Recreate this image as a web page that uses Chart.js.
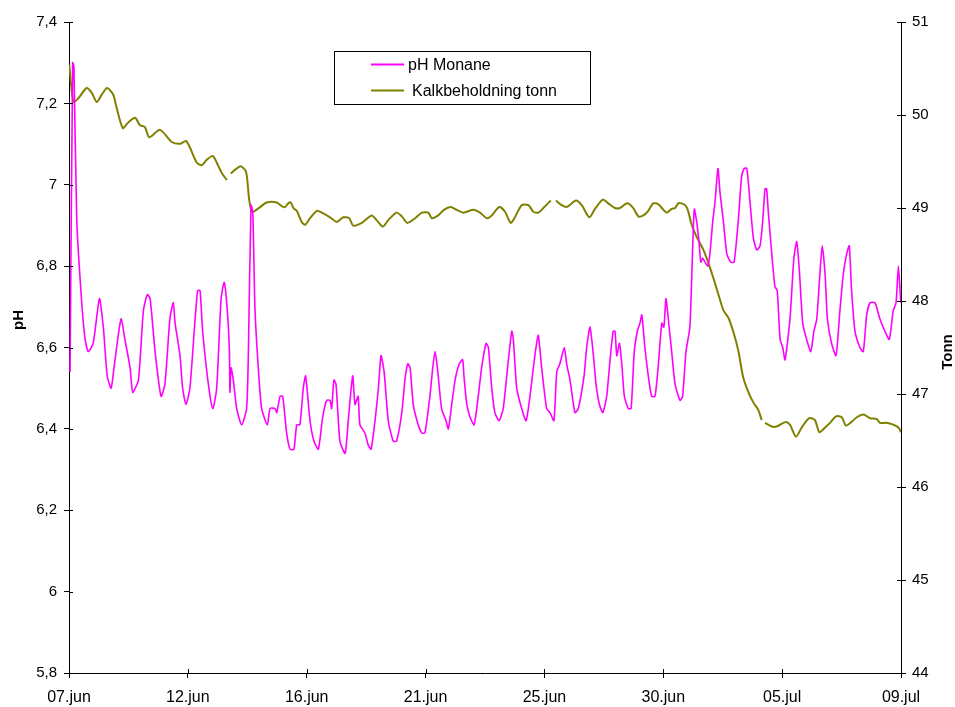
<!DOCTYPE html>
<html>
<head>
<meta charset="utf-8">
<script src="https://cdn.jsdelivr.net/npm/chart.js@4/dist/chart.umd.min.js"></script>
<style>
  html, body { margin: 0; padding: 0; background: #fff; }
  #wrap { width: 955px; height: 707px; }
</style>
</head>
<body>
<div id="wrap"><canvas id="c" width="955" height="707"></canvas></div>
<script>
// x = dager etter 07.jun (0 .. 32)
const xTickLabels = ['07.jun', '12.jun', '16.jun', '21.jun', '25.jun', '30.jun', '05.jul', '09.jul'];
const X_MAX = 32;

// pH Monane (venstre akse)
const phDay = [
  0.04, 0.14, 0.19, 0.30, 0.49, 0.62, 0.74, 0.93, 1.17, 1.32, 1.47, 1.62, 1.73, 2.00, 2.15, 2.35, 2.45, 2.67,
  2.86, 3.01, 3.12, 3.31, 3.54, 3.69, 3.88, 4.01, 4.08, 4.27, 4.37, 4.50, 4.65, 4.85, 4.95, 5.04, 5.14, 5.36,
  5.53, 5.68, 5.85, 5.97, 6.09, 6.17, 6.19, 6.23, 6.32, 6.45, 6.64, 6.83, 6.90, 7.00, 7.07, 7.15, 7.28, 7.41,
  7.63, 7.73, 7.92, 7.99, 8.12, 8.22, 8.37, 8.50, 8.65, 8.76, 8.88, 9.01, 9.10, 9.27, 9.42, 9.59, 9.76, 9.91,
  10.04, 10.10, 10.19, 10.27, 10.42, 10.62, 10.74, 10.91, 11.00, 11.12, 11.19, 11.38, 11.51, 11.62, 11.77, 11.90,
  12.00, 12.12, 12.28, 12.47, 12.60, 12.80, 12.92, 13.03, 13.12, 13.24, 13.43, 13.57, 13.69, 13.88, 13.99, 14.08,
  14.17, 14.33, 14.50, 14.59, 14.72, 14.85, 15.01, 15.14, 15.19, 15.30, 15.42, 15.58, 15.74, 15.87, 16.04, 16.13,
  16.26, 16.38, 16.54, 16.70, 16.90, 17.03, 17.09, 17.22, 17.41, 17.58, 17.73, 17.86, 17.96, 18.05, 18.18, 18.37,
  18.50, 18.65, 18.76, 18.88, 19.05, 19.14, 19.27, 19.46, 19.59, 19.81, 19.91, 20.04, 20.17, 20.27, 20.40, 20.53,
  20.68, 20.81, 20.93, 21.00, 21.07, 21.17, 21.26, 21.36, 21.51, 21.62, 21.74, 21.86, 21.96, 22.03, 22.15, 22.28,
  22.41, 22.54, 22.67, 22.80, 22.88, 22.96, 23.05, 23.18, 23.31, 23.50, 23.60, 23.73, 23.88, 23.99, 24.05, 24.14,
  24.23, 24.30, 24.37, 24.46, 24.57, 24.65, 24.76, 24.85, 24.96, 25.04, 25.17, 25.30, 25.45, 25.58, 25.74, 25.87,
  25.97, 26.07, 26.19, 26.32, 26.45, 26.58, 26.68, 26.77, 26.83, 26.90, 27.03, 27.15, 27.24, 27.35, 27.45, 27.54,
  27.73, 27.88, 27.99, 28.09, 28.22, 28.37, 28.53, 28.65, 28.76, 28.88, 28.97, 29.08, 29.17, 29.33, 29.50, 29.65,
  29.78, 29.91, 30.01, 30.10, 30.23, 30.42, 30.55, 30.68, 30.81, 31.00, 31.19, 31.38, 31.55, 31.70, 31.81, 31.90,
  31.99
];
const phValue = [
  6.54, 7.30, 7.29, 6.91, 6.71, 6.62, 6.59, 6.61, 6.72, 6.65, 6.53, 6.50, 6.55, 6.67, 6.62, 6.55, 6.49, 6.52,
  6.69, 6.73, 6.72, 6.59, 6.48, 6.51, 6.67, 6.71, 6.66, 6.58, 6.50, 6.46, 6.50, 6.67, 6.74, 6.74, 6.64, 6.51,
  6.45, 6.50, 6.72, 6.76, 6.69, 6.59, 6.49, 6.55, 6.52, 6.45, 6.41, 6.45, 6.59, 6.95, 6.93, 6.70, 6.55, 6.45,
  6.41, 6.45, 6.45, 6.44, 6.48, 6.48, 6.39, 6.35, 6.35, 6.41, 6.41, 6.50, 6.53, 6.42, 6.37, 6.35, 6.43, 6.47,
  6.47, 6.45, 6.52, 6.51, 6.37, 6.34, 6.42, 6.53, 6.46, 6.48, 6.41, 6.39, 6.36, 6.35, 6.42, 6.50,
  6.58, 6.54, 6.42, 6.37, 6.37, 6.44, 6.52, 6.56, 6.55, 6.46, 6.41, 6.39, 6.39, 6.48, 6.55, 6.59,
  6.55, 6.45, 6.42, 6.40, 6.46, 6.52, 6.56, 6.57, 6.53, 6.46, 6.43, 6.41, 6.48, 6.55, 6.61, 6.60,
  6.50, 6.44, 6.42, 6.45, 6.57, 6.64, 6.62, 6.50, 6.45, 6.42, 6.48, 6.55, 6.60, 6.63, 6.55, 6.45,
  6.44, 6.42, 6.54, 6.56, 6.60, 6.56, 6.52, 6.44, 6.45, 6.53, 6.60, 6.65, 6.58, 6.51, 6.46, 6.44,
  6.48, 6.57, 6.64, 6.64, 6.58, 6.61, 6.56, 6.48, 6.45, 6.45, 6.59, 6.64, 6.66, 6.68, 6.60, 6.53,
  6.48, 6.48, 6.56, 6.66, 6.65, 6.72, 6.67, 6.59, 6.51, 6.47, 6.48, 6.59, 6.65, 6.85, 6.94, 6.91,
  6.86, 6.81, 6.82, 6.81, 6.80, 6.83, 6.91, 6.96, 7.04, 6.98, 6.91, 6.83, 6.81, 6.81, 6.91, 7.02,
  7.04, 7.04, 6.96, 6.87, 6.84, 6.85, 6.91, 6.99, 6.99, 6.93, 6.83, 6.75, 6.74, 6.62, 6.60, 6.57,
  6.67, 6.82, 6.86, 6.79, 6.66, 6.62, 6.59, 6.64, 6.67, 6.78, 6.85, 6.78, 6.67, 6.61, 6.58, 6.69,
  6.78, 6.83, 6.85, 6.74, 6.64, 6.60, 6.59, 6.68, 6.71, 6.71, 6.67, 6.64, 6.62, 6.69, 6.71, 6.80,
  6.71
];

// Kalkbeholdning tonn (høyre akse), null = hull i serien
const kalkDay = [
  0.01, 0.17, 0.36, 0.68, 0.87, 1.07, 1.26, 1.47, 1.70, 1.83, 2.07, 2.28, 2.54, 2.73, 2.92, 3.09, 3.50, 3.95,
  4.27, 4.50, 4.65, 4.91, 5.10, 5.30, 5.53, 5.68, 5.87, 6.07, 6.15, 6.22, 6.38, 6.60, 6.81, 6.93, 7.03, 7.15,
  7.35, 7.60, 7.99, 8.18, 8.31, 8.43, 8.53, 8.63, 8.76, 8.95, 9.08, 9.27, 9.53, 9.72, 10.04, 10.30, 10.55, 10.78,
  10.93, 11.26, 11.64, 11.83, 12.07, 12.28, 12.60, 12.80, 13.01, 13.31, 13.57, 13.82, 13.95, 14.20, 14.42, 14.68,
  14.91, 15.17, 15.55, 15.81, 16.07, 16.26, 16.55, 16.77, 16.99, 17.15, 17.41, 17.67, 17.86, 18.05, 18.28, 18.53,
  18.63, 18.73, 18.95, 19.14, 19.50, 19.72, 20.01, 20.23, 20.53, 20.74, 21.00, 21.19, 21.38, 21.51, 21.70, 21.90,
  22.09, 22.28, 22.47, 22.67, 22.83, 22.99, 23.18, 23.31, 23.43, 23.56, 23.73, 23.82, 23.95, 24.14, 24.40, 24.59,
  24.78, 25.01, 25.17, 25.36, 25.55, 25.74, 25.93, 26.13, 26.32, 26.51, 26.64, 26.70, 26.77, 27.03, 27.22, 27.41,
  27.58, 27.73, 27.96, 28.18, 28.47, 28.69, 28.86, 29.08, 29.27, 29.50, 29.72, 29.88, 30.10, 30.30, 30.55, 30.81,
  31.07, 31.19, 31.45, 31.70, 31.90, 32.00
];
const kalkValue = [
  50.54, 50.14, 50.18, 50.29, 50.24, 50.14, 50.22, 50.29, 50.22, 50.08, 49.86, 49.92, 49.97, 49.89, 49.87, 49.76, 49.84, 49.71,
  49.69, 49.72, 49.65, 49.49, 49.46, 49.52, 49.56, 49.49, 49.38, 49.30, null, 49.37, 49.41, 49.45, 49.39, 49.09, 48.96, 48.97,
  49.01, 49.06, 49.06, 49.02, 49.01, 49.05, 49.06, 49.00, 48.97, 48.85, 48.82, 48.89, 48.97, 48.95, 48.90, 48.85, 48.90, 48.89,
  48.81, 48.84, 48.92, 48.87, 48.80, 48.87, 48.95, 48.91, 48.84, 48.89, 48.95, 48.95, 48.89, 48.92, 48.98, 49.01,
  48.98, 48.95, 48.98, 48.95, 48.89, 48.92, 49.01, 48.96, 48.84, 48.90, 49.03, 49.03, 48.96, 48.95, 49.01, 49.08,
  null, 49.08, 49.03, 49.01, 49.08, 49.03, 48.90, 48.99, 49.09, 49.05, 49.00, 49.00, 49.04, 49.05, 49.00, 48.91,
  48.92, 48.97, 49.05, 49.04, 48.99, 48.95, 48.99, 49.00, 49.05, 49.05, 49.02, 48.96, 48.82, 48.69, 48.55, 48.41,
  48.25, 48.04, 47.90, 47.82, 47.67, 47.47, 47.18, 47.02, 46.91, 46.83, 46.72, null, 46.69, 46.65, 46.65, 46.68,
  46.70, 46.67, 46.54, 46.64, 46.74, 46.72, 46.59, 46.64, 46.69, 46.76, 46.75, 46.66, 46.70, 46.75, 46.78, 46.74,
  46.73, 46.69, 46.69, 46.67, 46.64, 46.59
];

const PH_COLOR = '#ff00ff', KALK_COLOR = '#808000';
const FONT = 'Liberation Sans, Arial, sans-serif';
const fmtPh = (v) => String(Number(v.toFixed(1))).replace('.', ',');

// små tikk innover (Excel-stil: tikk krysser aksen)
const innerTicks = {
  id: 'innerTicks',
  afterDraw(chart) {
    const { ctx, scales, chartArea } = chart;
    ctx.save();
    ctx.strokeStyle = '#000';
    ctx.lineWidth = 1;
    ctx.beginPath();
    scales.x.ticks.forEach((t) => {
      const px = Math.round(scales.x.getPixelForValue(t.value)) + 0.5;
      ctx.moveTo(px, chartArea.bottom); ctx.lineTo(px, chartArea.bottom - 4);
    });
    scales.y.ticks.forEach((t) => {
      const py = Math.round(scales.y.getPixelForValue(t.value)) + 0.5;
      ctx.moveTo(chartArea.left, py); ctx.lineTo(chartArea.left + 4, py);
    });
    scales.y1.ticks.forEach((t) => {
      const py = Math.round(scales.y1.getPixelForValue(t.value)) + 0.5;
      ctx.moveTo(chartArea.right, py); ctx.lineTo(chartArea.right - 4, py);
    });
    ctx.stroke();
    ctx.restore();
  },
};

// aksetitler, begge rotert -90 som i Excel
const axisTitles = {
  id: 'axisTitles',
  afterDraw(chart) {
    const { ctx } = chart;
    ctx.save();
    ctx.fillStyle = '#000';
    ctx.font = 'bold 15px ' + FONT;
    ctx.textAlign = 'center';
    ctx.textBaseline = 'middle';
    [['pH', 19, 320], ['Tonn', 948, 352]].forEach(([txt, x, y]) => {
      ctx.save();
      ctx.translate(x, y);
      ctx.rotate(-Math.PI / 2);
      ctx.fillText(txt, 0, 0);
      ctx.restore();
    });
    ctx.restore();
  },
};

// forklaringsboks inne i plottet
const legendBox = {
  id: 'legendBox',
  afterDraw(chart) {
    const { ctx } = chart;
    const bx = 334.5, by = 51.5, bw = 256, bh = 53;
    ctx.save();
    ctx.fillStyle = '#fff';
    ctx.fillRect(bx, by, bw, bh);
    ctx.strokeStyle = '#000';
    ctx.lineWidth = 1;
    ctx.strokeRect(bx, by, bw, bh);
    ctx.font = '16px ' + FONT;
    ctx.textBaseline = 'middle';
    chart.data.datasets.forEach((ds, i) => {
      const y = 64.5 + i * 26;
      ctx.strokeStyle = ds.borderColor;
      ctx.lineWidth = 2;
      ctx.beginPath();
      ctx.moveTo(371, y); ctx.lineTo(404, y);
      ctx.stroke();
      ctx.fillStyle = '#000';
      ctx.fillText(ds.label, i === 0 ? 408 : 412, y + 1);
    });
    ctx.restore();
  },
};

new Chart(document.getElementById('c'), {
  type: 'line',
  data: {
    datasets: [
      {
        label: 'pH Monane', yAxisID: 'y',
        data: phDay.map((d, i) => ({ x: d, y: phValue[i] })),
        borderColor: PH_COLOR, borderWidth: 1.6, pointRadius: 0, tension: 0.2,
      },
      {
        label: 'Kalkbeholdning tonn', yAxisID: 'y1',
        data: kalkDay.map((d, i) => ({ x: d, y: kalkValue[i] })),
        borderColor: KALK_COLOR, borderWidth: 2, pointRadius: 0, tension: 0.25, spanGaps: false,
      },
    ],
  },
  options: {
    responsive: false, animation: false,
    layout: { padding: { top: 22, left: 0, right: 0, bottom: 0 } },
    plugins: { legend: { display: false }, tooltip: { enabled: false } },
    scales: {
      x: {
        type: 'linear', min: 0, max: X_MAX,
        afterFit: (s) => { s.height = 34; },
        afterBuildTicks: (s) => { s.ticks = xTickLabels.map((_, i) => ({ value: (i * X_MAX) / (xTickLabels.length - 1) })); },
        grid: { drawOnChartArea: false, color: '#000', tickLength: 5 },
        border: { color: '#000' },
        ticks: { color: '#000', font: { family: FONT, size: 16 }, padding: 10, maxRotation: 0, autoSkip: false,
                 callback: (v, i) => xTickLabels[i] },
      },
      y: {
        position: 'left', min: 5.8, max: 7.4,
        afterFit: (s) => { s.width = 69; },
        grid: { drawOnChartArea: false, color: '#000', tickLength: 5 },
        border: { color: '#000' },
        ticks: { stepSize: 0.2, color: '#000', font: { family: FONT, size: 15 }, padding: 7, callback: (v) => fmtPh(v) },
      },
      y1: {
        position: 'right', min: 44, max: 51,
        afterFit: (s) => { s.width = 54; },
        grid: { drawOnChartArea: false, color: '#000', tickLength: 5 },
        border: { color: '#000' },
        ticks: { stepSize: 1, color: '#000', font: { family: FONT, size: 15 }, padding: 6 },
      },
    },
  },
  plugins: [innerTicks, axisTitles, legendBox],
});
</script>
</body>
</html>
